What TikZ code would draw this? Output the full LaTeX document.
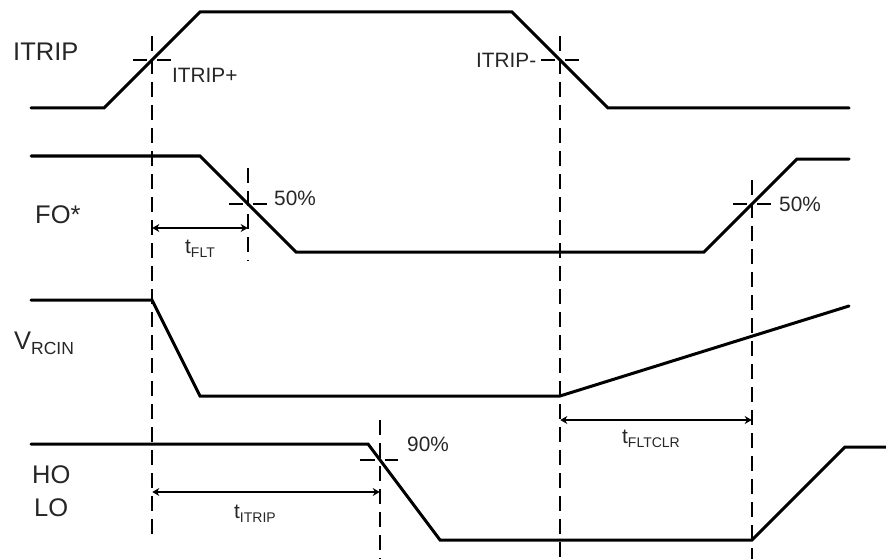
\documentclass[tikz,border=0pt]{standalone}
\usepackage{fontspec}
\setmainfont{Liberation Sans}
\usetikzlibrary{arrows.meta}
\newcommand{\lblsub}[2]{#1\raisebox{-0.22em}{\fontsize{14}{14}\selectfont #2}}
\tikzset{
  x=1pt,y=-1pt,
  wave/.style={line width=3pt,line join=miter,line cap=round,black},
  guide/.style={line width=1.8pt,dash pattern=on 15pt off 8pt,black},
  tick/.style={line width=1.6pt,black},
  span/.style={line width=1.7pt,{Stealth[length=7pt,width=8pt]}-{Stealth[length=7pt,width=8pt]},shorten <=0.3pt,shorten >=0.3pt,black},
  biglabel/.style={anchor=base west,inner sep=0pt,font=\fontsize{25.5}{28}\selectfont,text=black!85},
  smalllabel/.style={anchor=base west,inner sep=0pt,font=\fontsize{20.8}{24}\selectfont,text=black!85},
}
\begin{document}
\begin{tikzpicture}
\useasboundingbox (0,0) rectangle (886,559);
% waveforms
\draw[wave] (31,108) -- (104,108) -- (200,12) -- (512,12) -- (608,108) -- (849,108);
\draw[wave] (31,156) -- (200,156) -- (296,252) -- (704,252) -- (797,159) -- (849,159);
\draw[wave] (31,300) -- (152,300) -- (200,396) -- (560,396) -- (849,306);
\draw[wave] (31,444) -- (368,444) -- (440,540) -- (752,540) -- (845,447) -- (886,447);
% guides
\coordinate (g1t) at (152,36);  \coordinate (g1b) at (152,535);
\coordinate (g2t) at (248,168); \coordinate (g2b) at (248,261);
\coordinate (g3t) at (380,420); \coordinate (g3b) at (380,559);
\coordinate (g4t) at (560,36);  \coordinate (g4b) at (560,559);
\coordinate (g5t) at (752,180); \coordinate (g5b) at (752,559);
\draw[guide] (g1t) -- (g1b);
\draw[guide] (g2t) -- (g2b);
\draw[guide] (g3t) -- (g3b);
\draw[guide] (g4t) -- (g4b);
\draw[guide] (g5t) -- (g5b);
% threshold ticks
\draw[tick] (133,60) -- (147,60) (157,60) -- (171,60);
\draw[tick] (229,204) -- (243,204) (253,204) -- (267,204);
\draw[tick] (360,460) -- (375,460) (385,460) -- (398,460);
\draw[tick] (541,60) -- (555,60) (565,60) -- (579,60);
\draw[tick] (733,204) -- (747,204) (757,204) -- (771,204);
% spans
\coordinate (s1a) at (152,228); \coordinate (s1b) at (248,228);
\coordinate (s2a) at (152,492); \coordinate (s2b) at (380,492);
\coordinate (s3a) at (560,420); \coordinate (s3b) at (752,420);
\draw[span] (s1a) -- (s1b);
\draw[span] (s2a) -- (s2b);
\draw[span] (s3a) -- (s3b);
% labels
\node[biglabel] (itrip) at (13,61) {ITRIP};
\node[biglabel] (fo) at (35,223) {FO*};
\node[biglabel] (vrcin) at (14,349) {V\raisebox{-0.2em}{\fontsize{17.5}{20}\selectfont RCIN}};
\node[biglabel] (ho) at (32,483) {HO};
\node[biglabel] (lo) at (34,516) {LO};
\node[smalllabel] (ip) at (172,83) {ITRIP+};
\node[smalllabel] (im) at (476,68) {ITRIP-};
\node[smalllabel] (p1) at (274,205) {50\%};
\node[smalllabel] (p2) at (779,211) {50\%};
\node[smalllabel] (p3) at (407,451) {90\%};
\node[smalllabel] (tflt) at (185,253) {\lblsub{t}{FLT}};
\node[smalllabel] (titrip) at (234,518) {\lblsub{t}{ITRIP}};
\node[smalllabel] (tclr) at (622,443) {\lblsub{t}{FLTCLR}};
\end{tikzpicture}
\end{document}
